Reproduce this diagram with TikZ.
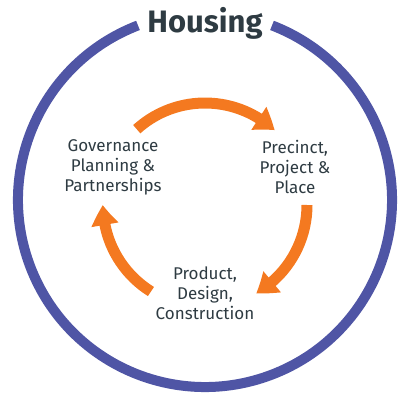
\documentclass[tikz,border=0pt]{standalone}
\usepackage{fontspec}
\setmainfont{Fira Sans}
\usepackage{xcolor}
\usetikzlibrary{arrows.meta}
\usetikzlibrary{bending}
\usetikzlibrary{calc}
\definecolor{ringblue}{HTML}{4F55A5}
\definecolor{cycleorange}{HTML}{F47920}
\definecolor{textgrey}{HTML}{2E3B42}

\begin{document}
\begin{tikzpicture}[x=1pt,y=1pt]
\tikzset{>={Triangle[width=26pt,length=20pt,bend]}}
\tikzstyle{stage} =[align=center,text=textgrey,inner sep=0pt,font=\fontsize{17}{20}\selectfont]
\tikzstyle{cycle} =[->,line width=11pt,draw=cycleorange]
\useasboundingbox (0,0) rectangle (410,400);
\coordinate (c) at (205,200);
\coordinate (m) at (205,195);

\node[text=textgrey,font=\bfseries\fontsize{31}{32}\selectfont](h) at (205,377){Housing};
\node[stage](s1) at (113,233){Governance\\Planning \&\\Partnerships};
\node[stage](s2) at (295,233){Precinct,\\Project \&\\Place};
\node[stage](s3) at (205,107){Product,\\Design,\\Construction};

\coordinate (r0) at ($(c)+(111:187)$);
\draw [ringblue,line width=10pt] (r0) arc[start angle=111,end angle=429,radius=187];

\coordinate (a1) at ($(m)+(132:102)$);
\coordinate (a2) at ($(m)+(0:102)$);
\coordinate (a3) at ($(m)+(238:102)$);
\draw [cycle] (a1) arc[start angle=132,end angle=47,radius=102];
\draw [cycle] (a2) arc[start angle=0,end angle=-60,radius=102];
\draw [cycle] (a3) arc[start angle=238,end angle=180,radius=102];
\end{tikzpicture}
\end{document}
